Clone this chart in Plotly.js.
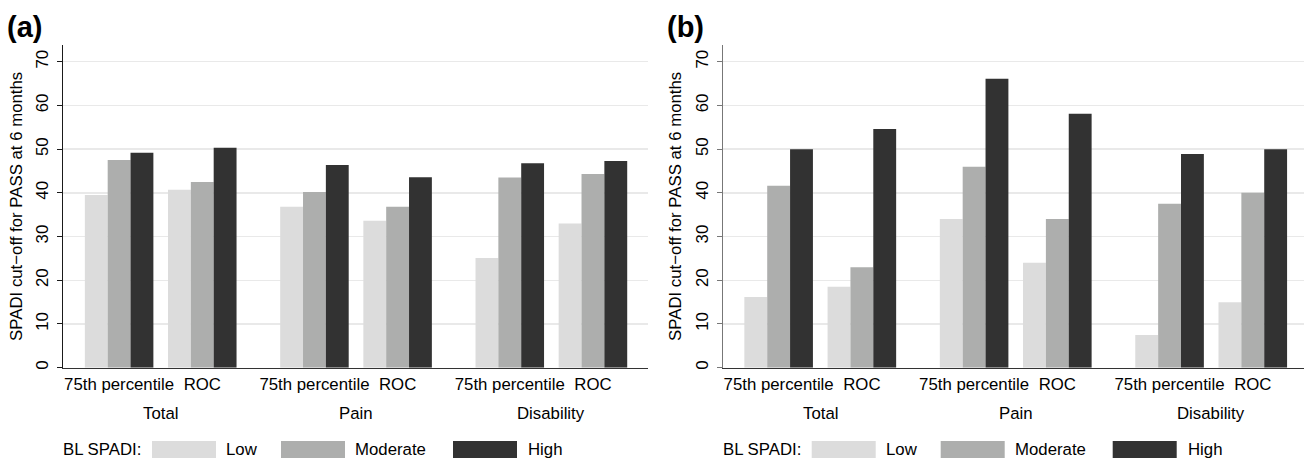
<!DOCTYPE html>
<html>
<head>
<meta charset="utf-8">
<script src="https://cdn.plot.ly/plotly-3.0.1.min.js"></script>
<style>html,body{margin:0;padding:0;background:#fff;}#chart{width:1304px;height:458px;}</style>
</head>
<body>
<div id="chart"></div>
<script>
// ---- data ----
const groups = ['Total', 'Pain', 'Disability'];
const methods = ['75th percentile', 'ROC'];
const levels = ['Low', 'Moderate', 'High'];
const levelColors = ['#dcdcdc', '#adaead', '#323232'];

// Panel (a)
const lowA  = [39.5, 40.7, 36.8, 33.6, 25.1, 33.0];
const modA  = [47.5, 42.5, 40.2, 36.8, 43.5, 44.3];
const highA = [49.2, 50.3, 46.4, 43.6, 46.8, 47.3];
// Panel (b)
const lowB  = [16.2, 18.5, 34.0, 24.0, 7.5, 15.0];
const modB  = [41.6, 23.0, 46.0, 34.0, 37.5, 40.0];
const highB = [50.0, 54.6, 66.1, 58.1, 48.9, 50.0];

const yTicks = [0, 10, 20, 30, 40, 50, 60, 70];
const yTitle = 'SPADI cut\u2212off for PASS at 6 months';
const legendTitle = 'BL SPADI:';
const panelLabels = ['(a)', '(b)'];

// ---- layout helpers ----
const W = 1304, H = 458;
const px = x => x / W;
const py = y => 1 - y / H;
const GROUP_STEP = 8.55, SUB_STEP = 3.64;
const positions = [];
const tickText = [];
groups.forEach((g, gi) => methods.forEach((m, mi) => {
  positions.push(gi * GROUP_STEP + mi * SUB_STEP);
  tickText.push(m);
}));
const groupCenters = groups.map((g, gi) => gi * GROUP_STEP + SUB_STEP / 2);

const FONT = 'Liberation Sans, Arial, sans-serif';
const FS = 16.8;
const panels = [
  {vals: [lowA, modA, highA], xa: 'x', ya: 'y', axisPx: 63, rightPx: 648, range: [-2.456, 23.15], lineColor: '#1a1a1a'},
  {vals: [lowB, modB, highB], xa: 'x2', ya: 'y2', axisPx: 722.7, rightPx: 1304, range: [-2.447, 22.98], lineColor: '#777777'}
];

const traces = [];
panels.forEach((p, pi) => {
  levels.forEach((lv, li) => {
    traces.push({
      type: 'bar', x: positions, y: p.vals[li], xaxis: p.xa, yaxis: p.ya,
      width: 1, offset: -1.5 + li,
      marker: {color: levelColors[li], line: {width: 0}},
      name: lv, showlegend: false, hoverinfo: 'y'
    });
  });
});

const layout = {
  width: W, height: H,
  margin: {l: 0, r: 0, t: 0, b: 0},
  paper_bgcolor: '#fff', plot_bgcolor: '#fff',
  barmode: 'overlay',
  font: {family: FONT, size: FS, color: '#000'},
  annotations: [], shapes: []
};

panels.forEach((p, pi) => {
  const sfx = pi === 0 ? '' : '2';
  layout['xaxis' + sfx] = {
    domain: [px(p.axisPx), px(p.rightPx)], range: p.range, anchor: 'y' + sfx,
    tickvals: positions, ticktext: tickText, ticks: '', showgrid: false, zeroline: false,
    showline: true, linecolor: '#333333', linewidth: 1.2,
    tickfont: {family: FONT, size: FS, color: '#000'}, ticklabelstandoff: 1, fixedrange: true
  };
  layout['yaxis' + sfx] = {
    domain: [py(367.7), py(45)], range: [0, 73.83], anchor: 'x' + sfx,
    tickvals: yTicks, tickangle: -90, ticks: 'outside', ticklen: 5, tickcolor: p.lineColor, tickwidth: 1,
    showline: true, linecolor: p.lineColor, linewidth: 1.2,
    showgrid: true, gridcolor: '#e9e9e9', gridwidth: 1.5, zeroline: false,
    tickfont: {family: FONT, size: FS, color: '#000'}, ticklabelstandoff: 2,
    title: {text: yTitle, font: {family: FONT, size: FS, color: '#000'}, standoff: 6},
    fixedrange: true
  };
  // group labels
  groups.forEach((g, gi) => layout.annotations.push({
    text: g, xref: 'x' + sfx, yref: 'paper', x: groupCenters[gi], y: py(413),
    xanchor: 'center', yanchor: 'middle', showarrow: false, font: {family: FONT, size: FS, color: '#000'}
  }));
  // panel label
  layout.annotations.push({
    text: '<b>' + panelLabels[pi] + '</b>', xref: 'paper', yref: 'paper',
    x: px(p.axisPx - 58), y: py(27), xanchor: 'left', yanchor: 'middle', showarrow: false,
    font: {family: FONT, size: 29, color: '#000'}
  });
  // legend
  const L = p.axisPx;
  layout.annotations.push({
    text: legendTitle, xref: 'paper', yref: 'paper', x: px(L - 2), y: py(449),
    xanchor: 'left', yanchor: 'middle', showarrow: false, font: {family: FONT, size: FS, color: '#000'}
  });
  const swStart = [89, 218, 390], txtStart = [163, 292, 465];
  levels.forEach((lv, li) => {
    layout.shapes.push({
      type: 'rect', xref: 'paper', yref: 'paper', x0: px(L + swStart[li]), x1: px(L + swStart[li] + 64),
      y0: py(441), y1: py(460), fillcolor: levelColors[li], line: {width: 0}
    });
    layout.annotations.push({
      text: lv, xref: 'paper', yref: 'paper', x: px(L + txtStart[li] - 2), y: py(449),
      xanchor: 'left', yanchor: 'middle', showarrow: false, font: {family: FONT, size: FS, color: '#000'}
    });
  });
});

Plotly.newPlot('chart', traces, layout, {displayModeBar: false, staticPlot: true});
</script>
</body>
</html>
